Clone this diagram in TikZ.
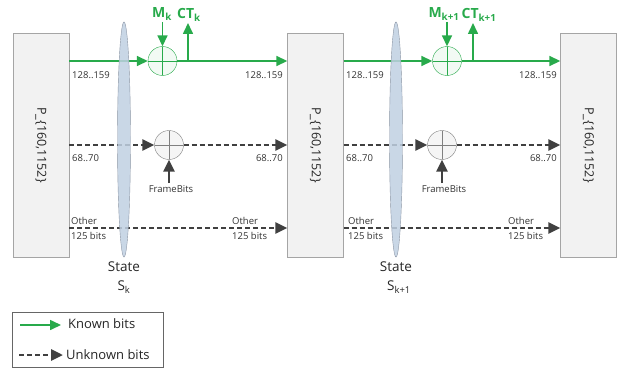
\documentclass[tikz,border=0pt]{standalone}
\usepackage{fontspec}
\setmainfont{Open Sans}
\usetikzlibrary{arrows.meta,shapes.geometric}
\definecolor{kgreen}{RGB}{40,170,75}
\definecolor{ugray}{RGB}{64,64,64}
\definecolor{boxfill}{RGB}{242,242,242}
\definecolor{boxline}{RGB}{165,165,165}
\definecolor{stfill}{RGB}{192,208,226}
\definecolor{stline}{RGB}{140,150,165}
\begin{document}
\begin{tikzpicture}[x=1pt,y=-1pt,
  pbox/.style={draw=boxline,fill=boxfill,minimum width=56pt,minimum height=224pt,inner sep=0pt},
  ptext/.style={rotate=-90,font=\fontsize{12.5}{14}\selectfont,text=black!85},
  stateell/.style={ellipse,draw=stline,fill=stfill,fill opacity=0.85,minimum width=13pt,minimum height=235pt,inner sep=0pt},
  gxor/.style={circle,draw=kgreen,fill=kgreen!6,minimum size=29pt,inner sep=0pt,
    path picture={\draw[kgreen,thin] (path picture bounding box.north) -- (path picture bounding box.south)
      (path picture bounding box.west) -- (path picture bounding box.east);}},
  uxor/.style={circle,draw=gray,fill=gray!8,minimum size=29pt,inner sep=0pt,
    path picture={\draw[gray,thin] (path picture bounding box.north) -- (path picture bounding box.south)
      (path picture bounding box.west) -- (path picture bounding box.east);}},
  kline/.style={draw=kgreen,line width=1.6pt,-{Triangle[length=11pt,width=10pt]}},
  uline/.style={draw=ugray,line width=2.8pt,dash pattern=on 5pt off 3pt,-{Triangle[length=12pt,width=11pt]}},
  fbline/.style={draw=ugray,line width=2.6pt,-{Triangle[length=12pt,width=11pt]}},
  lbl/.style={font=\fontsize{9.5}{11}\selectfont,text=black!80,inner sep=0pt},
  glbl/.style={font=\bfseries\fontsize{14}{16}\selectfont,text=kgreen,inner sep=0pt},
  stlbl/.style={font=\fontsize{13.5}{15}\selectfont,text=black!85,inner sep=0pt},
  leglbl/.style={font=\fontsize{13}{15}\selectfont,text=black!85,inner sep=0pt}
]
\useasboundingbox (0,0) rectangle (623,369);

% boxes
\node[pbox] (b1) at (41,145) {};
\node[ptext] (b1t) at (b1) {P\_\{160,1152\}};
\node[pbox] (b2) at (315.5,145) {};
\node[ptext] (b2t) at (b2) {P\_\{160,1152\}};
\node[pbox] (b3) at (588.5,145) {};
\node[ptext] (b3t) at (b3) {P\_\{160,1152\}};

% xor nodes
\node[gxor] (x1) at (162.5,61) {};
\node[uxor] (u1) at (169,145) {};
\node[gxor] (x2) at (447,61) {};
\node[uxor] (u2) at (442,145) {};

% free ends
\coordinate (m1) at (162.5,22);
\coordinate (c1s) at (188,61);
\coordinate (c1e) at (188,23);
\coordinate (f1) at (169,183);
\coordinate (m2) at (447,22);
\coordinate (c2s) at (473,61);
\coordinate (c2e) at (473,23);
\coordinate (f2) at (442,183);

% stage 1 connectors
\draw[kline] (b1.east |- x1) -- (x1.west);
\draw[kline] (x1.east) -- (b2.west |- x1);
\draw[kline] (m1) -- (x1.north);
\draw[kline] (c1s) -- (c1e);
\draw[uline] (b1.east |- u1) -- (u1.west);
\draw[uline] (u1.east) -- (b2.west |- u1);
\draw[fbline] (f1) -- (u1.south);
\draw[uline] (b1.east |- 0,228) -- (b2.west |- 0,228);

% stage 2 connectors
\draw[kline] (b2.east |- x2) -- (x2.west);
\draw[kline] (x2.east) -- (b3.west |- x2);
\draw[kline] (m2) -- (x2.north);
\draw[kline] (c2s) -- (c2e);
\draw[uline] (b2.east |- u2) -- (u2.west);
\draw[uline] (u2.east) -- (b3.west |- u2);
\draw[fbline] (f2) -- (u2.south);
\draw[uline] (b2.east |- 0,228) -- (b3.west |- 0,228);

% states
\node[stateell] (s1) at (124,139.5) {};
\node[stateell] (s2) at (396,139.5) {};

% green labels
\node[glbl] (ml1) at (162,14) {M\textsubscript{k}};
\node[glbl] (cl1) at (189,15) {CT\textsubscript{k}};
\node[glbl] (ml2) at (444,14) {M\textsubscript{k+1}};
\node[glbl] (cl2) at (479,15) {CT\textsubscript{k+1}};

% small labels stage 1
\node[lbl,anchor=west] (l1a) at (72,75) {128..159};
\node[lbl,anchor=east] (l1b) at (283,75) {128..159};
\node[lbl,anchor=west] (l1c) at (72,158) {68..70};
\node[lbl,anchor=east] (l1d) at (283,158) {68..70};
\node[lbl] (l1f) at (171,189) {FrameBits};
\node[lbl,anchor=west] (l1g) at (71,221) {Other};
\node[lbl,anchor=west] (l1h) at (71,236) {125 bits};
\node[lbl,anchor=west] (l1i) at (232,221) {Other};
\node[lbl,anchor=west] (l1j) at (232,236) {125 bits};

% small labels stage 2
\node[lbl,anchor=west] (l2a) at (346,75) {128..159};
\node[lbl,anchor=east] (l2b) at (557,75) {128..159};
\node[lbl,anchor=west] (l2c) at (346,158) {68..70};
\node[lbl,anchor=east] (l2d) at (557,158) {68..70};
\node[lbl] (l2f) at (444,189) {FrameBits};
\node[lbl,anchor=west] (l2g) at (348,221) {Other};
\node[lbl,anchor=west] (l2h) at (348,236) {125 bits};
\node[lbl,anchor=west] (l2i) at (508,221) {Other};
\node[lbl,anchor=west] (l2j) at (508,236) {125 bits};

% state labels
\node[stlbl] (st1) at (124,267) {State};
\node[stlbl] (sk1) at (124,287) {S\textsubscript{k}};
\node[stlbl] (st2) at (396,267) {State};
\node[stlbl] (sk2) at (399,287) {S\textsubscript{k+1}};

% legend
\node[draw=ugray!80,fill=white,line width=0.8pt,minimum width=151pt,minimum height=55pt,inner sep=0pt] (leg) at (87.5,340) {};
\coordinate (lk1) at (20,325);
\coordinate (lk2) at (61,325);
\coordinate (lu1) at (19,355);
\coordinate (lu2) at (63,355);
\draw[kline] (lk1) -- (lk2);
\draw[uline] (lu1) -- (lu2);
\node[leglbl,anchor=west] (lkt) at (68,324) {Known bits};
\node[leglbl,anchor=west] (lut) at (66,355) {Unknown bits};
\end{tikzpicture}
\end{document}
